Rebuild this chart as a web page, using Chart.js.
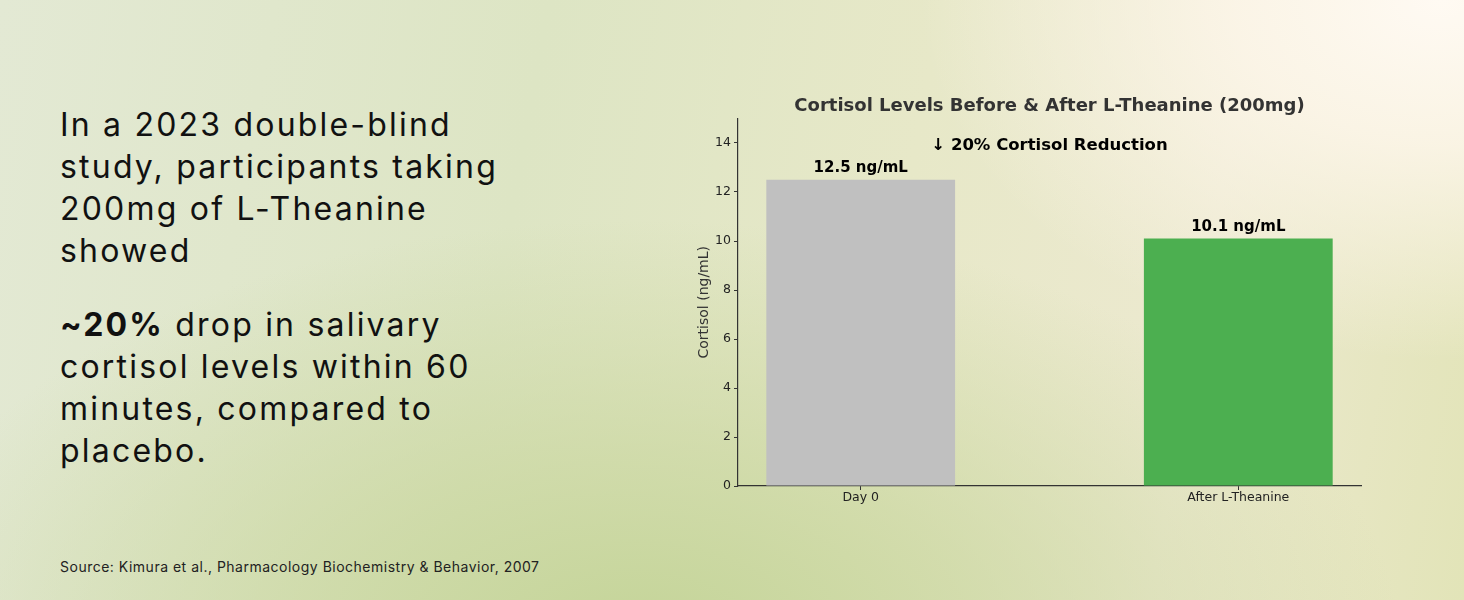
<!DOCTYPE html>
<html>
<head>
<meta charset="utf-8">
<script src="https://cdn.jsdelivr.net/npm/chart.js@4.4.0/dist/chart.umd.min.js"></script>
<style>
  html, body { margin: 0; padding: 0; }
  body {
    width: 1464px; height: 600px; overflow: hidden; position: relative;
    background:
      radial-gradient(ellipse 520px 360px at 1440px 0px, rgba(255,250,243,1) 0%, rgba(253,246,234,0.85) 40%, rgba(250,240,225,0) 100%),
      radial-gradient(ellipse 760px 420px at 640px 640px, rgba(196,212,152,1) 0%, rgba(202,215,160,0.7) 45%, rgba(210,220,175,0) 100%),
      linear-gradient(100deg, #e3e9d4 0%, #dde5c4 35%, #e7e8c8 60%, #ece9cf 80%, #e2e4b8 100%);
    font-family: "Inter", "Open Sans", sans-serif;
    color: #111;
  }
  .lead {
    position: absolute; left: 60px; top: 104px; margin: 0;
    font-size: 32px; line-height: 42px; font-weight: 400; letter-spacing: 2.2px;
  }
  .lead2 { top: 304px; }
  .lead b { font-weight: 700; }
  .source {
    position: absolute; left: 60px; top: 558px; margin: 0;
    font-size: 14px; letter-spacing: 0.5px; color: #222;
  }
  #wrap { position: absolute; left: 680px; top: 80px; width: 700px; height: 440px; }
</style>
</head>
<body>
<p class="lead">In a 2023 double-blind<br>study, participants taking<br>200mg of L-Theanine<br>showed</p>
<p class="lead lead2"><b>~20%</b> drop in salivary<br>cortisol levels within 60<br>minutes, compared to<br>placebo.</p>
<p class="source">Source: Kimura et al., Pharmacology Biochemistry &amp; Behavior, 2007</p>
<div id="wrap"><canvas id="cortisolChart"></canvas></div>
<script>
var categories = ['Day 0', 'After L-Theanine'];
var cortisol = [12.5, 10.1];
var barColors = ['#c0c0c0', '#4caf50'];
var valueLabels = ['12.5 ng/mL', '10.1 ng/mL'];
var chartTitle = 'Cortisol Levels Before & After L-Theanine (200mg)';
var noteText = '\u2193 20% Cortisol Reduction';
var yTitle = 'Cortisol (ng/mL)';

var tickFont = { family: 'DejaVu Sans', size: 12.5 };

var textPlugin = {
    id: 'textPlugin',
    afterDraw: function(chart) {
        var ctx = chart.ctx;
        var area = chart.chartArea;
        var xs = chart.scales.x;
        var ys = chart.scales.y;
        var cx = (area.left + area.right) / 2;
        ctx.save();
        ctx.textAlign = 'center';
        ctx.textBaseline = 'middle';

        ctx.fillStyle = '#333333';
        ctx.font = 'bold 18px "DejaVu Sans"';
        ctx.fillText(chartTitle, cx, 26);

        ctx.fillStyle = '#000000';
        ctx.font = 'bold 16.5px "DejaVu Sans"';
        ctx.fillText(noteText, xs.getPixelForValue(0.5), ys.getPixelForValue(14) + 3);

        ctx.font = 'bold 15px "DejaVu Sans"';
        ctx.textBaseline = 'bottom';
        cortisol.forEach(function(v, i) {
            ctx.fillText(valueLabels[i], xs.getPixelForValue(i), ys.getPixelForValue(v) - 4);
        });

        ctx.fillStyle = '#333333';
        ctx.font = '14px "DejaVu Sans"';
        ctx.textBaseline = 'middle';
        ctx.translate(24, (area.top + area.bottom) / 2);
        ctx.rotate(-Math.PI / 2);
        ctx.fillText(yTitle, 0, 0);
        ctx.restore();
    }
};

var ctx = document.getElementById('cortisolChart').getContext('2d');
var cortisolChart = new Chart(ctx, {
    type: 'bar',
    data: {
        datasets: [{
            data: cortisol.map(function(v, i) { return { x: i, y: v }; }),
            backgroundColor: barColors,
            borderWidth: 0,
            categoryPercentage: 1,
            barPercentage: 0.5
        }]
    },
    options: {
        responsive: true,
        maintainAspectRatio: false,
        animation: false,
        layout: { padding: { top: 38.5, right: 19, left: 0, bottom: 0 } },
        plugins: {
            legend: { display: false },
            tooltip: { enabled: false },
            title: { display: false }
        },
        scales: {
            x: {
                type: 'linear',
                offset: false,
                min: -0.325,
                max: 1.325,
                afterBuildTicks: function(scale) {
                    scale.ticks = categories.map(function(c, i) { return { value: i }; });
                },
                afterFit: function(scale) { scale.height = 34; },
                ticks: {
                    color: '#222222',
                    font: tickFont,
                    padding: 0,
                    maxRotation: 0,
                    callback: function(value) { return categories[value]; }
                },
                grid: { offset: false, drawOnChartArea: false, drawTicks: true, tickLength: 4, color: '#333333' },
                border: { display: true, color: '#333333', width: 1.2 }
            },
            y: {
                min: 0,
                max: 15,
                afterFit: function(scale) { scale.width = 58; },
                ticks: {
                    stepSize: 2,
                    includeBounds: false,
                    color: '#222222',
                    font: tickFont,
                    padding: 3
                },
                grid: { drawOnChartArea: false, drawTicks: true, tickLength: 4, color: '#333333' },
                border: { display: true, color: '#333333', width: 1.2 }
            }
        }
    },
    plugins: [textPlugin]
});
</script>
</body>
</html>
